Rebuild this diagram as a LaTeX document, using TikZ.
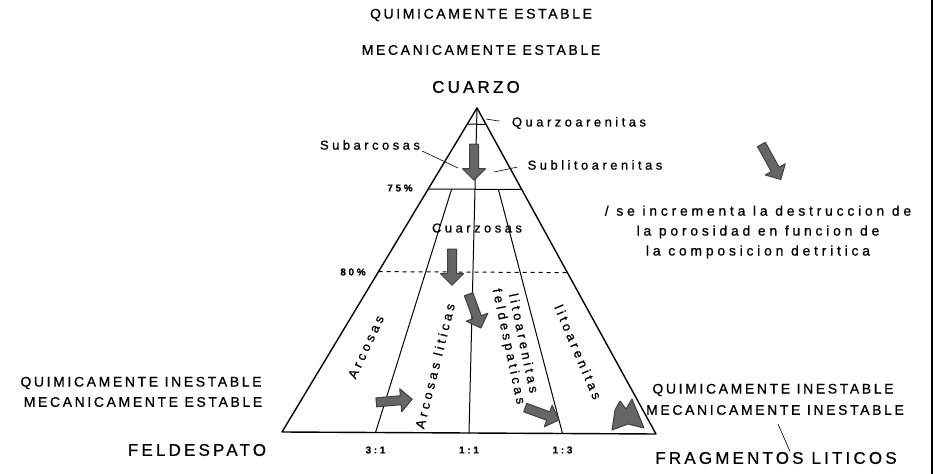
\documentclass[tikz,border=0pt]{standalone}
\usepackage{fontspec}
\setmainfont{Liberation Sans}
\newfontfamily\capsfont[LetterSpace=19, FakeBold=0.8]{Liberation Sans}
\newfontfamily\lowfont[LetterSpace=27, FakeBold=0.8]{Liberation Sans}
\usetikzlibrary{positioning, calc, shapes.arrows}

\tikzset{
  title/.style={font=\capsfont\fontsize{14}{16}\selectfont, inner sep=0pt},
  corner/.style={font=\capsfont\fontsize{17}{19}\selectfont, inner sep=0pt},
  rock/.style={font=\lowfont\fontsize{13}{15}\selectfont, inner sep=0pt},
  ratio/.style={font=\lowfont\bfseries\fontsize{10}{12}\selectfont, inner sep=0pt},
  note/.style={font=\lowfont\fontsize{14}{20}\selectfont, inner sep=0pt, align=center},
  leader/.style={line width=0.6bp},
  fatarrow/.style={single arrow, fill=black!60, draw=black!75, inner sep=4bp,
    single arrow head extend=7bp, minimum height=36bp},
}

\begin{document}
\begin{tikzpicture}[x=1bp, y=-1bp, line width=1bp, line join=round]
\useasboundingbox (0,0) rectangle (936,474);

% vertices of the triangle
\coordinate (Q) at (477,108);
\coordinate (F) at (282,432);
\coordinate (L) at (656,434);
\coordinate (t31) at ($(F)!0.25!(L)$);
\coordinate (t11) at ($(F)!0.5!(L)$);
\coordinate (t13) at ($(F)!0.75!(L)$);

\draw[line width=1.4bp] (Q) -- (F) -- (L) -- cycle;
\draw (Q) -- (t11);
\draw ($(Q)!0.05!(F)$) -- ($(Q)!0.05!(L)$);
\draw ($(Q)!0.25!(F)$) -- ($(Q)!0.25!(L)$);
\draw[dash pattern=on 4bp off 4bp] ($(Q)!0.505!(F)$) -- ($(Q)!0.505!(L)$);
\draw ($(Q)!0.25!(t31)$) -- (t31);
\draw ($(Q)!0.25!(t13)$) -- (t13);

% titles
\node[title] (qe) at (481,15) {QUIMICAMENTE ESTABLE};
\node[title] (me) at (481,50) {MECANICAMENTE ESTABLE};
\node[corner] (cuarzo) at (476,87) {CUARZO};
\node[corner] (feld) at (197,450) {FELDESPATO};
\node[corner] (frag) at (776,458) {FRAGMENTOS LITICOS};
\node[title] (qil) at (141,383) {QUIMICAMENTE INESTABLE};
\node[title] (mel) at (143,402) {MECANICAMENTE ESTABLE};
\node[title] (qir) at (773,390) {QUIMICAMENTE INESTABLE};
\node[title] (mir) at (775,410) {MECANICAMENTE INESTABLE};

% rock names
\node[rock] (quarzo) at (579,123) {Quarzoarenitas};
\node[rock] (sublito) at (595,165) {Sublitoarenitas};
\node[rock] (subarc) at (370,145) {Subarcosas};
\node[rock] (cuarzosas) at (477,228) {Cuarzosas};
\node[rock, rotate=65] (arc) at (366,347) {Arcosas};
\node[rock, rotate=76] (arclit) at (435,366) {Arcosas liticas};
\node[rock, rotate=-78] (litfeld) at (515,345) {\begin{tabular}{@{}c@{}}litoarenitas\\feldespaticas\end{tabular}};
\node[rock, rotate=-67] (lito) at (578,352) {litoarenitas};

% percentages and ratios
\node[ratio] (p75) at (400,188) {75\%};
\node[ratio] (p80) at (353,272) {80\%};
\node[ratio] (r31) at (t31 |- feld) {3:1};
\node[ratio] (r11) at (t11 |- feld) {1:1};
\node[ratio] (r13) at (t13 |- feld) {1:3};

\node[note] (nota) at (758,232) {/ se incrementa la destruccion de\\la porosidad en funcion de\\la composicion detritica};

% leaders
\coordinate (qtip) at (486,119);
\coordinate (subtip) at (458,168);
\coordinate (slttip) at (494,172);
\coordinate (fragtip) at (778,424);
\draw[leader, shorten >=12bp] (qtip) -- (quarzo.west);
\draw[leader, shorten <=2bp] (subarc.south east) -- (subtip);
\draw[leader, shorten >=10bp] (slttip) -- (sublito.west);
\draw[leader] (fragtip) -- ([xshift=14bp]frag.north);

% arrows
\node[fatarrow, rotate=-90] (a1) at (474,160) {};
\node[fatarrow, rotate=-90] (a2) at (452,265) {};
\node[fatarrow, rotate=-70] (a3) at (474,309) {};
\node[fatarrow, rotate=5] (a4) at (392,401) {};
\node[fatarrow, rotate=-20] (a5) at (540,413) {};
\node[fatarrow, rotate=-61, minimum height=40bp] (a6) at (770,160) {};
\filldraw[fill=black!60, draw=black!75] (612,430) -- (615,410) -- (620,401) -- (626,409)
  -- (632,399) -- (644,428) -- (628,424) -- cycle;

% edge of the sheet
\draw[line width=2bp] (932,0) -- (932,474);
\end{tikzpicture}
\end{document}
